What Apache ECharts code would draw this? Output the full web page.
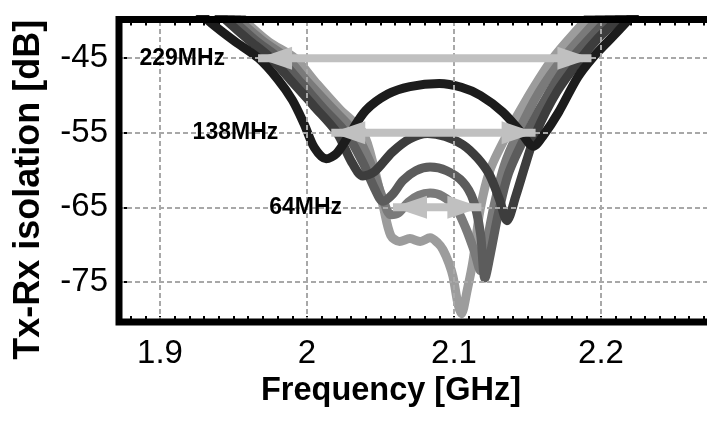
<!DOCTYPE html>
<html>
<head>
<meta charset="utf-8">
<script src="https://cdn.jsdelivr.net/npm/echarts@6/dist/echarts.min.js"></script>
<style>
  html, body { margin: 0; padding: 0; background: #fff; }
  #main { width: 707px; height: 424px; }
</style>
</head>
<body>
<div id="main"></div>
<script>
// axis labels
const xLabels = [1.9, 2, 2.1, 2.2];
const yLabels = [-75, -65, -55, -45];

// measured curves, widest (black) to narrowest (lightest)
const freq1 = [1.922, 1.935, 1.950, 1.967, 1.980, 1.990, 1.998, 2.005, 2.013, 2.020, 2.028, 2.040, 2.055, 2.070, 2.090, 2.105, 2.118, 2.133, 2.145, 2.154, 2.161, 2.171, 2.184, 2.194, 2.206, 2.218, 2.230];
const iso1 = [-38, -40.3, -42.6, -45, -47.8, -50.6, -53.8, -57, -58.5, -57.8, -55.5, -52, -49.8, -48.8, -48.4, -48.9, -50, -52.2, -54.8, -56.8, -55.3, -52.3, -47.6, -45, -42.5, -40, -37.5];

const freq2 = [1.935, 1.9456, 1.960, 1.9755, 1.990, 2.005, 2.0204, 2.030, 2.038, 2.046, 2.058, 2.070, 2.082, 2.094, 2.106, 2.116, 2.124, 2.131, 2.136, 2.142, 2.149, 2.1558, 2.170, 2.1864, 2.198, 2.2102, 2.222];
const iso2 = [-38, -40, -42.5, -45, -48.2, -51.5, -55, -58.8, -60.8, -60.2, -57.6, -55.8, -55.1, -55.5, -56.6, -58.4, -60.6, -64, -66.8, -63.5, -59, -55, -49.5, -45, -42.3, -40, -37.5];

const freq3 = [1.940, 1.9503, 1.965, 1.981, 1.996, 2.011, 2.0265, 2.038, 2.046, 2.0517, 2.058, 2.0653, 2.074, 2.0837, 2.095, 2.106, 2.113, 2.118, 2.121, 2.125, 2.130, 2.137, 2.1497, 2.165, 2.1803, 2.2034, 2.215];
const iso3 = [-38, -40, -42.6, -45, -48.3, -51.7, -55, -59, -62.5, -64.2, -63.3, -61.4, -60.1, -59.6, -60.1, -61.6, -64, -68.5, -74.5, -71, -66, -60.5, -55, -49.5, -45, -40, -37.5];

const freq4 = [1.945, 1.9544, 1.970, 1.9864, 2.001, 2.017, 2.0327, 2.043, 2.051, 2.057, 2.062, 2.069, 2.076, 2.0837, 2.092, 2.101, 2.108, 2.114, 2.118, 2.122, 2.127, 2.134, 2.1435, 2.158, 2.1741, 2.1966, 2.208];
const iso4 = [-38, -40, -42.7, -45, -48.3, -51.7, -55, -59, -63.5, -66, -65.8, -64.3, -63.4, -63.1, -63.5, -65, -67.8, -71, -73.5, -70, -65, -59.5, -55, -49.5, -45, -40, -37.5];

const freq5 = [1.949, 1.9578, 1.974, 1.9918, 2.007, 2.022, 2.0381, 2.046, 2.052, 2.057, 2.063, 2.070, 2.077, 2.0837, 2.089, 2.0925, 2.0965, 2.0993, 2.1027, 2.1050, 2.109, 2.113, 2.1177, 2.1245, 2.1367, 2.150, 2.1673, 2.1891, 2.200];
const iso5 = [-38, -40, -42.8, -45, -48.5, -51.8, -55, -60, -65, -68.8, -69.6, -69.2, -69.6, -69.1, -69.8, -70.7, -72.5, -74.3, -78, -79.3, -76.1, -72.1, -65.4, -60, -55, -50.3, -45, -40, -37.5];

// bandwidth arrows
const arrowNames = ['229MHz', '138MHz', '64MHz'];
const arrowStart = [1.9667, 2.0165, 2.0585];
const arrowEnd = [2.1935, 2.1555, 2.1186];
const arrowLevel = [-45, -55, -65];

(function (w, d) {
    'use strict';

    const font = '"Liberation Sans", Arial, sans-serif';
    const arrowColor = '#c0c0c0';
    const curveColors = ['#1c1c1c', '#3d3d3d', '#5c5c5c', '#7a7a7a', '#9c9c9c'];
    const labelGaps = [33, 53, 51];

    // x range keeps 1470 px per GHz, right border falls just off the canvas
    const xMin = 1.8721;
    const xMax = 1.8721 + 600 / 1470;

    const minorTicks = [];
    for (let i = 188; i <= 227; i++) minorTicks.push(i / 100);

    const zip = (xs, ys) => xs.map((x, i) => [x, ys[i]]);

    const curves = [
        zip(freq1, iso1), zip(freq2, iso2), zip(freq3, iso3), zip(freq4, iso4), zip(freq5, iso5)
    ];

    const curveSeries = curves.map((data, i) => ({
        type: 'line',
        data: data,
        z: 3,
        smooth: 0.3,
        showSymbol: false,
        silent: true,
        lineStyle: { color: curveColors[i], width: 9, cap: 'round', join: 'round' }
    })).reverse();

    const arrowSeries = arrowNames.map((name, i) => ({
        type: 'line',
        z: 6,
        silent: true,
        symbol: 'triangle',
        symbolSize: [23, 34],
        showSymbol: true,
        lineStyle: { color: arrowColor, width: 8 },
        itemStyle: { color: arrowColor },
        data: [
            {
                value: [arrowStart[i], arrowLevel[i]],
                symbolRotate: 90,
                symbolOffset: [17, 0],
                label: {
                    show: true,
                    position: 'left',
                    distance: labelGaps[i],
                    formatter: name,
                    color: '#000',
                    fontFamily: font,
                    fontWeight: 'bold',
                    fontSize: 23
                }
            },
            {
                value: [arrowEnd[i], arrowLevel[i]],
                symbolRotate: -90,
                symbolOffset: [-17, 0]
            }
        ]
    }));

    const gridLines = {
        type: 'line',
        data: [],
        z: 1,
        silent: true,
        markLine: {
            silent: true,
            symbol: 'none',
            label: { show: false },
            lineStyle: { color: '#a8a8a8', width: 2, type: [5, 3] },
            data: xLabels.map(v => ({ xAxis: v })).concat(yLabels.map(v => ({ yAxis: v })))
        }
    };

    const tickStyle = { color: '#000', width: 2 };

    const chart = echarts.init(d.getElementById('main'));
    chart.setOption({
        animation: false,
        backgroundColor: '#fff',
        grid: {
            show: true,
            z: 10,
            left: 119,
            top: 19.5,
            width: 600,
            height: 302.5,
            outerBoundsMode: 'none',
            borderColor: '#000',
            borderWidth: 7,
            backgroundColor: 'transparent'
        },
        xAxis: [
            {
                type: 'value',
                position: 'bottom',
                min: xMin,
                max: xMax,
                axisLine: { show: false },
                axisTick: { inside: true, length: 6, lineStyle: tickStyle, customValues: minorTicks },
                axisLabel: {
                    customValues: xLabels,
                    color: '#000',
                    fontFamily: font,
                    fontSize: 33,
                    margin: 15
                },
                splitLine: { show: false },
                name: 'Frequency [GHz]',
                nameLocation: 'middle',
                nameGap: 43,
                nameTextStyle: {
                    color: '#000', fontFamily: font, fontWeight: 'bold', fontSize: 32.5,
                    padding: [0, 56, 0, 0]
                }
            },
            {
                type: 'value',
                position: 'top',
                min: xMin,
                max: xMax,
                axisLine: { show: false },
                axisTick: { inside: true, length: 6, lineStyle: tickStyle, customValues: minorTicks },
                axisLabel: { show: false },
                splitLine: { show: false }
            }
        ],
        yAxis: [
            {
                type: 'value',
                position: 'left',
                min: -80.4,
                max: -39.8,
                axisLine: { show: false },
                axisTick: { inside: true, length: 9, lineStyle: tickStyle, customValues: yLabels },
                axisLabel: {
                    customValues: yLabels,
                    color: '#000',
                    fontFamily: font,
                    fontSize: 33,
                    margin: 11
                },
                splitLine: { show: false },
                name: 'Tx-Rx isolation [dB]',
                nameLocation: 'middle',
                nameGap: 72,
                nameTextStyle: {
                    color: '#000', fontFamily: font, fontWeight: 'bold', fontSize: 36,
                    padding: [0, 38, 0, 0]
                }
            },
            {
                type: 'value',
                position: 'right',
                min: -80.4,
                max: -39.8,
                axisLine: { show: false },
                axisTick: { inside: true, length: 14, lineStyle: tickStyle, customValues: yLabels },
                axisLabel: { show: false },
                splitLine: { show: false }
            }
        ],
        series: [gridLines].concat(curveSeries, arrowSeries)
    });
})(window, document);
</script>
</body>
</html>
